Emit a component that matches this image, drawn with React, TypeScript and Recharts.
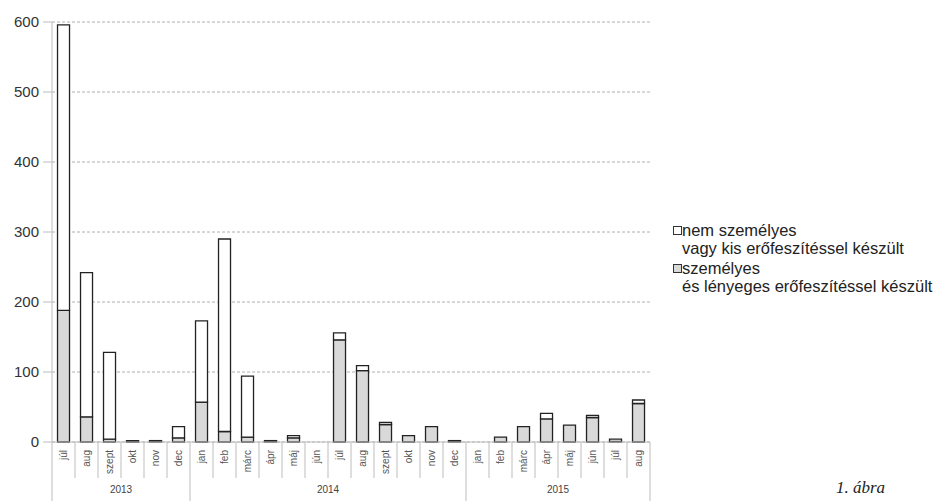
import { Bar, BarChart, CartesianGrid, Legend, XAxis, YAxis } from "recharts";

const months = [
  "júl", "aug", "szept", "okt", "nov", "dec",
  "jan", "feb", "márc", "ápr", "máj", "jún", "júl", "aug", "szept", "okt", "nov", "dec",
  "jan", "feb", "márc", "ápr", "máj", "jún", "júl", "aug",
];
const years = [
  2013, 2013, 2013, 2013, 2013, 2013,
  2014, 2014, 2014, 2014, 2014, 2014, 2014, 2014, 2014, 2014, 2014, 2014,
  2015, 2015, 2015, 2015, 2015, 2015, 2015, 2015,
];
// személyes és lényeges erőfeszítéssel készült (grey, bottom)
const personal = [188, 36, 4, 1, 1, 6, 57, 15, 7, 1, 6, 0, 146, 102, 25, 9, 22, 1, 0, 7, 22, 33, 24, 35, 1, 55];
// nem személyes vagy kis erőfeszítéssel készült (white, on top)
const impersonal = [408, 206, 124, 1, 1, 16, 116, 275, 87, 1, 3, 0, 10, 7, 3, 0, 0, 1, 0, 0, 0, 8, 0, 3, 3, 5];
const yTicks = [0, 100, 200, 300, 400, 500, 600];

const legendItems = [
  { lines: ["nem személyes", "vagy kis erőfeszítéssel készült"], fill: "#ffffff" },
  { lines: ["személyes", "és lényeges erőfeszítéssel készült"], fill: "#d9d9d9" },
];

const data = months.map((m, i) => ({
  m,
  year: years[i],
  personal: personal[i],
  impersonal: impersonal[i],
}));

const W = 934;
const H = 501;
const LEFT = 52;
const RIGHT = 284;
const TOP = 22;
const XH = 59;
const BAND = (W - LEFT - RIGHT) / months.length;
const FONT = "'Liberation Sans', Arial, sans-serif";
const LINE = "#bdbdbd";

function MonthTick(props: any) {
  const { x, y, index, payload } = props;
  const left = x - BAND / 2;
  const yearStart = index === 0 || years[index] !== years[index - 1];
  const count = years.filter((v) => v === years[index]).length;
  const last = index === months.length - 1;
  return (
    <g>
      <line x1={left} x2={left} y1={y} y2={yearStart ? H : y + 36} stroke={LINE} />
      {last && <line x1={x + BAND / 2} x2={x + BAND / 2} y1={y} y2={H} stroke={LINE} />}
      <text
        transform={`translate(${x + 3.5},${y + 8}) rotate(-90)`}
        textAnchor="end"
        fontSize={10}
        fontFamily={FONT}
        fill="#555"
      >
        {payload.value}
      </text>
      {yearStart && (
        <text x={left + (count * BAND) / 2} y={y + 51} textAnchor="middle" fontSize={10} fontFamily={FONT} fill="#444">
          {years[index]}
        </text>
      )}
    </g>
  );
}

function LegendBox() {
  return (
    <div style={{ fontFamily: FONT, fontSize: 16.5, color: "#222", lineHeight: "18px", textAlign: "left" }}>
      {legendItems.map((it) => (
        <div key={it.lines[0]} style={{ position: "relative", paddingLeft: 9, marginBottom: 2 }}>
          <span
            style={{
              position: "absolute", left: 0, top: 5, width: 7, height: 7,
              background: it.fill, border: "1px solid #333",
            }}
          />
          {it.lines.map((l) => (
            <div key={l} style={{ whiteSpace: "nowrap" }}>{l}</div>
          ))}
        </div>
      ))}
    </div>
  );
}

export default function App() {
  return (
    <div style={{ position: "absolute", left: 0, top: 0, width: W, height: H, background: "#fff" }}>
      <BarChart
        width={W}
        height={H}
        data={data}
        margin={{ top: TOP, right: RIGHT, bottom: 0, left: 0 }}
        barCategoryGap="24%"
      >
        <CartesianGrid vertical={false} stroke="#b0b0b0" strokeDasharray="3 2" />
        <XAxis
          dataKey="m"
          height={XH}
          interval={0}
          axisLine={{ stroke: LINE }}
          tickLine={false}
          tickSize={0}
          tickMargin={0}
          tick={<MonthTick />}
        />
        <YAxis
          domain={[0, 600]}
          ticks={yTicks}
          width={LEFT}
          axisLine={{ stroke: LINE }}
          tickLine={{ stroke: LINE }}
          tickSize={9}
          tickMargin={4}
          tick={{ fontSize: 15, fontFamily: FONT, fill: "#333" }}
        />
        <YAxis yAxisId="r" orientation="right" width={0} tick={false} axisLine={{ stroke: LINE }} tickLine={false} />
        <XAxis xAxisId="t" dataKey="m" orientation="top" height={0} tick={false} axisLine={{ stroke: LINE }} tickLine={false} />
        <Legend
          layout="vertical"
          align="center"
          verticalAlign="middle"
          content={<LegendBox />}
          wrapperStyle={{ position: "absolute", left: 673, top: 221, width: 261 }}
        />
        <Bar dataKey="personal" stackId="a" fill="#d9d9d9" stroke="#222" strokeWidth={1.3} isAnimationActive={false} />
        <Bar dataKey="impersonal" stackId="a" fill="#ffffff" stroke="#222" strokeWidth={1.3} isAnimationActive={false} />
      </BarChart>
      <div
        style={{
          position: "absolute", left: 836, top: 478, fontFamily: "'Liberation Serif', serif",
          fontStyle: "italic", fontSize: 17, color: "#222",
        }}
      >
        1. ábra
      </div>
    </div>
  );
}
